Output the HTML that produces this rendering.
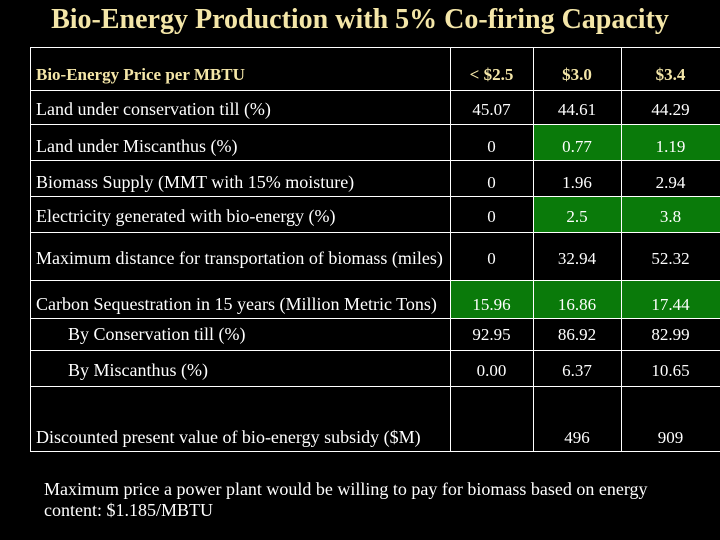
<!DOCTYPE html>
<html><head><meta charset="utf-8"><style>
body{margin:0;width:720px;height:540px;background:#000;overflow:hidden;position:relative;font-family:"Liberation Serif",serif;color:#fff}
.t{position:absolute;white-space:nowrap}
.c{position:absolute;text-align:center;font-size:17px;line-height:17px}
.h{position:absolute;background:#fff;height:1px}
.v{position:absolute;background:#fff;width:1px}
.g{position:absolute;background:#0a7a0a}
.lab{position:absolute;left:36px;font-size:18px;line-height:18px;white-space:nowrap}
</style></head><body>
<div class="t" style="left:0;width:720px;text-align:center;top:4px;font-size:28px;font-weight:bold;color:#f4e6a8">Bio-Energy Production with 5% Co-firing Capacity</div>
<div id="tbl"></div>
<div class="t" style="left:44px;top:479px;font-size:18px;line-height:21px">Maximum price a power plant would be willing to pay for biomass based on energy<br>content: $1.185/MBTU</div>
<script>
const rowLabels=["Land under conservation till (%)","Land under Miscanthus (%)","Biomass Supply (MMT with 15% moisture)","Electricity generated with bio-energy (%)","Maximum distance for transportation of biomass (miles)","Carbon Sequestration in 15 years (Million Metric Tons)","By Conservation till (%)","By Miscanthus (%)","Discounted present value of bio-energy subsidy ($M)"];
const colHeads=["< $2.5","$3.0","$3.4"];
const col1=["45.07","0","0","0","0","15.96","92.95","0.00",""];
const col2=["44.61","0.77","1.96","2.5","32.94","16.86","86.92","6.37","496"];
const col3=["44.29","1.19","2.94","3.8","52.32","17.44","82.99","10.65","909"];
const greenCells=[[1,1],[1,2],[3,1],[3,2],[5,0],[5,1],[5,2]];
const rowLines=[47,90,124,160,196,232,280,318,350,386,451];
const colLines=[30,450,533,621,720];
const tbl=document.getElementById('tbl');
function add(cls,st,txt){const d=document.createElement('div');d.className=cls;Object.assign(d.style,st);if(txt!==undefined)d.textContent=txt;tbl.appendChild(d);return d;}
greenCells.forEach(([r,c])=>{const d=add('g',{left:colLines[c+1]+'px',top:rowLines[r+1]+'px',width:(colLines[c+2]-colLines[c+1])+'px',height:(rowLines[r+2]-rowLines[r+1])+'px'});

});
rowLines.forEach(y=>{const d=add('h',{left:'30px',width:'690px',top:y+'px'});

});
colLines.slice(0,4).forEach(x=>{const d=add('v',{left:x+'px',top:'47px',height:'405px'});

});
const hy=66;
let hl=add('lab',{top:hy+'px',color:'#f4e6a8',fontWeight:'bold',fontSize:'17px'},'Bio-Energy Price per MBTU');


colHeads.forEach((h,i)=>{const d=add('c',{left:colLines[i+1]+'px',width:(colLines[i+2]-colLines[i+1])+'px',top:hy+'px',color:'#f4e6a8',fontWeight:'bold'},h);

});
const textY=[100,137,173,207,249,295,325,361,428];
const cols=[col1,col2,col3];
rowLabels.forEach((l,r)=>{const ind=(r===6||r===7);const d=add('lab',{top:textY[r]+'px',left:(ind?68:36)+'px'},l);


cols.forEach((cv,c)=>{const e=add('c',{left:colLines[c+1]+'px',width:(colLines[c+2]-colLines[c+1])+'px',top:(textY[r]+1)+'px'},cv[r]);

});});
</script>
</body></html>
